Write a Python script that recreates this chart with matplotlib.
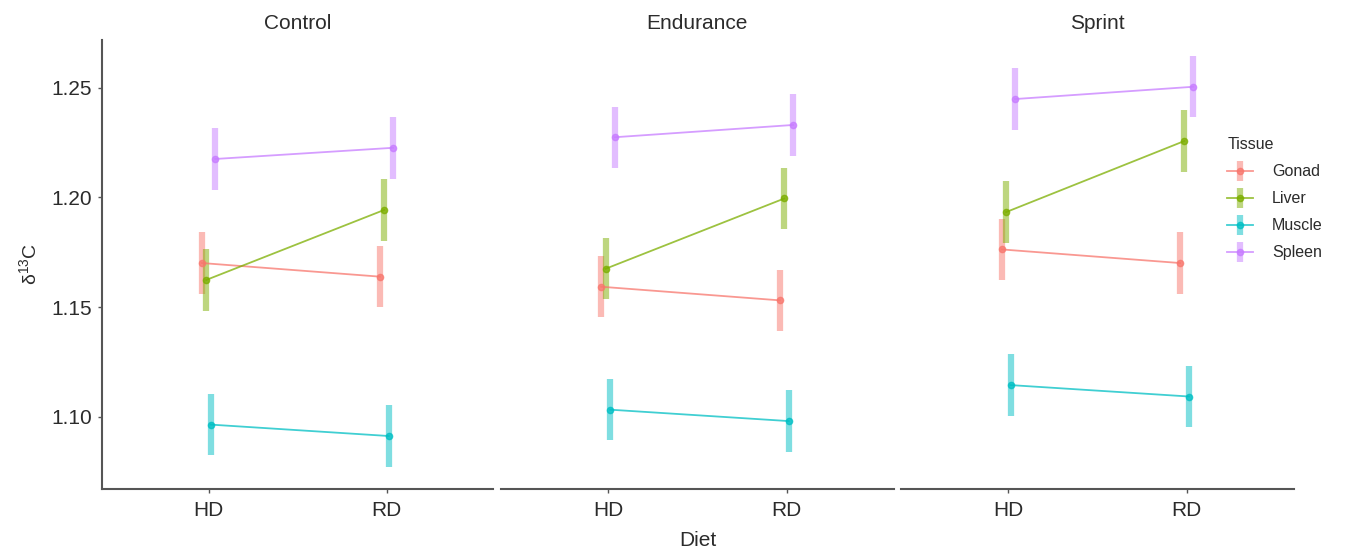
import matplotlib
matplotlib.use("Agg")
import matplotlib.pyplot as plt
from matplotlib.container import ErrorbarContainer
from matplotlib.legend_handler import HandlerErrorbar
import numpy as np

plt.rcParams['font.family'] = ['Liberation Sans', 'DejaVu Sans']

panels = ["Control", "Endurance", "Sprint"]
diets = ["HD", "RD"]
tissues = ["Gonad", "Liver", "Muscle", "Spleen"]
colors = ["#F8766D", "#7CAE00", "#00BFC4", "#C77CFF"]

# means [panel][tissue] = (HD, RD)
control_vals = {"Gonad": [1.1701, 1.1639], "Liver": [1.1624, 1.1943],
                "Muscle": [1.0965, 1.0913], "Spleen": [1.2175, 1.2226]}
endurance_vals = {"Gonad": [1.1593, 1.1531], "Liver": [1.1675, 1.1995],
                  "Muscle": [1.1033, 1.0981], "Spleen": [1.2274, 1.2330]}
sprint_vals = {"Gonad": [1.1763, 1.1701], "Liver": [1.1933, 1.2257],
               "Muscle": [1.1145, 1.1093], "Spleen": [1.2448, 1.2504]}
err_half = 0.014
panel_data = [control_vals, endurance_vals, sprint_vals]

W, H = 1364, 554
fig = plt.figure(figsize=(W / 100, H / 100), dpi=100)

top_px, bot_px = 40, 488.7
panel_px = [(101.7, 493.3), (500.7, 893.7), (901.3, 1293.7)]
dodge = [-0.0375, -0.0125, 0.0125, 0.0375]
axcol = "#555555"
txtcol = "#2b2b2b"

handles = []
for pi, (name, data) in enumerate(zip(panels, panel_data)):
    x0, x1 = panel_px[pi]
    ax = fig.add_axes([x0 / W, (H - bot_px) / H, (x1 - x0) / W, (bot_px - top_px) / H])
    for ti, t in enumerate(tissues):
        xs = np.arange(1, len(diets) + 1) + dodge[ti]
        ys = np.array(data[t])
        cont = ax.errorbar(xs, ys, yerr=err_half, fmt='-o', color=colors[ti],
                           ms=4.5, lw=1.3, elinewidth=4.5, capsize=0, zorder=3)
        cont[0].set_alpha(0.75)
        for bc in cont[2]:
            bc.set_alpha(0.5)
            bc.set_capstyle('butt')
        if pi == 0:
            handles.append(cont)
    ax.set_xlim(0.4, 2.6)
    ax.set_ylim(1.0673, 1.2717)
    ax.set_xticks([1, 2])
    ax.set_xticklabels(diets, fontsize=15, color=txtcol)
    for s in ["top", "right"]:
        ax.spines[s].set_visible(False)
    ax.spines["bottom"].set_color(axcol)
    ax.spines["bottom"].set_linewidth(1.5)
    ax.tick_params(axis='x', length=3, width=1, color=axcol, pad=6)
    if pi == 0:
        ax.set_yticks([1.10, 1.15, 1.20, 1.25])
        ax.set_yticklabels(["1.10", "1.15", "1.20", "1.25"], fontsize=15, color=txtcol)
        ax.spines["left"].set_color(axcol)
        ax.spines["left"].set_linewidth(1.5)
        ax.tick_params(axis='y', length=3, width=1, color=axcol, pad=4)
        ax.set_ylabel(r"δ$^{\mathregular{13}}$C", fontsize=14, color=txtcol, labelpad=7)
    else:
        ax.spines["left"].set_visible(False)
        ax.set_yticks([])
    ax.set_title(name, fontsize=15, color=txtcol, pad=8)

fig.text(((panel_px[0][0] + panel_px[2][1]) / 2) / W, 1 - 541 / H, "Diet",
         fontsize=15, color=txtcol, ha='center', va='center')

leg = fig.legend(handles, tissues, loc='upper left',
                 bbox_to_anchor=(1213 / W, 1 - 123 / H), frameon=False,
                 title="Tissue", fontsize=11.5, title_fontsize=11.5,
                 handlelength=1.6, labelspacing=0.75, handletextpad=1.2,
                 alignment='left',
                 handler_map={ErrorbarContainer: HandlerErrorbar(xerr_size=0.5, yerr_size=0.62)})
for t in leg.get_texts():
    t.set_color(txtcol)
leg.get_title().set_color(txtcol)

fig.savefig("out.png", dpi=100)
